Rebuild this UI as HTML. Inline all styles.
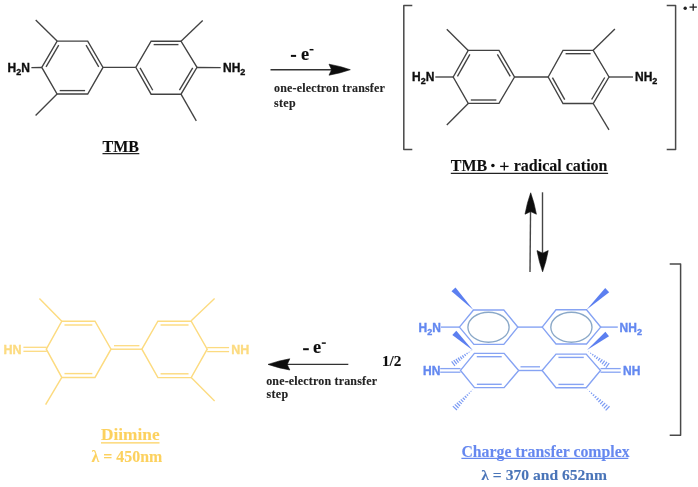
<!DOCTYPE html>
<html><head><meta charset="utf-8"><style>
html,body{margin:0;padding:0;background:#fff;width:698px;height:487px;overflow:hidden}
svg{display:block}
</style></head><body>
<svg width="698" height="487" viewBox="0 0 698 487">
<defs><filter id="b" x="-5%" y="-5%" width="110%" height="110%"><feGaussianBlur stdDeviation="0.55"/></filter></defs>
<rect width="698" height="487" fill="#fff"/>
<g filter="url(#b)">
<polygon points="41.8,67.4 57.1,41.1 87.7,41.1 103,67.4 87.7,94 57.1,94" fill="none" stroke="#424242" stroke-width="1.35" stroke-linejoin="miter"/>
<line x1="46.04" y1="66.87" x2="58.74" y2="45.05" stroke="#424242" stroke-width="1.35" stroke-linecap="butt"/>
<line x1="86.06" y1="45.05" x2="98.76" y2="66.87" stroke="#424242" stroke-width="1.35" stroke-linecap="butt"/>
<line x1="85.1" y1="90.6" x2="59.7" y2="90.6" stroke="#424242" stroke-width="1.35" stroke-linecap="butt"/>
<line x1="57.1" y1="41.1" x2="35.7" y2="20" stroke="#424242" stroke-width="1.35" stroke-linecap="butt"/>
<line x1="57.1" y1="94" x2="35.6" y2="115.5" stroke="#424242" stroke-width="1.35" stroke-linecap="butt"/>
<line x1="31.4" y1="67.6" x2="41.8" y2="67.5" stroke="#424242" stroke-width="1.35" stroke-linecap="butt"/>
<line x1="103" y1="67.4" x2="135.8" y2="67.4" stroke="#424242" stroke-width="1.35" stroke-linecap="butt"/>
<polygon points="135.8,67.3 151.1,41.2 181,41.2 197,67.3 181,94.2 151.1,94.2" fill="none" stroke="#424242" stroke-width="1.35" stroke-linejoin="miter"/>
<line x1="153.64" y1="44.6" x2="178.46" y2="44.6" stroke="#424242" stroke-width="1.35" stroke-linecap="butt"/>
<line x1="192.72" y1="67.85" x2="179.44" y2="90.18" stroke="#424242" stroke-width="1.35" stroke-linecap="butt"/>
<line x1="152.75" y1="90.23" x2="140.06" y2="67.91" stroke="#424242" stroke-width="1.35" stroke-linecap="butt"/>
<line x1="181" y1="41.2" x2="202.7" y2="20.5" stroke="#424242" stroke-width="1.35" stroke-linecap="butt"/>
<line x1="181" y1="94.2" x2="196.3" y2="120.8" stroke="#424242" stroke-width="1.35" stroke-linecap="butt"/>
<line x1="197" y1="67.5" x2="220.7" y2="67.7" stroke="#424242" stroke-width="1.35" stroke-linecap="butt"/>
<text x="7.6" y="72.4" font-family="'Liberation Sans', serif" font-weight="bold" font-size="12" fill="#111" stroke="#111" stroke-width="0.35" text-anchor="start" >H<tspan font-size="9" dy="2.9">2</tspan><tspan dy="-2.9">N</tspan></text>
<text x="223" y="72.4" font-family="'Liberation Sans', serif" font-weight="bold" font-size="12" fill="#111" stroke="#111" stroke-width="0.35" text-anchor="start" >NH<tspan font-size="9" dy="2.9">2</tspan></text>
<text x="102.5" y="151.8" font-family="'Liberation Serif', serif" font-weight="bold" font-size="16" fill="#111" stroke="#111" stroke-width="0.1" text-anchor="start" >TMB</text>
<line x1="102.5" y1="153.6" x2="139.3" y2="153.6" stroke="#222" stroke-width="1.2" stroke-linecap="butt"/>
<polygon points="453.2,77 468.2,50.4 499,50.4 514.5,77 499,103.4 468.2,103.4" fill="none" stroke="#424242" stroke-width="1.35" stroke-linejoin="miter"/>
<line x1="457.44" y1="76.41" x2="469.89" y2="54.33" stroke="#424242" stroke-width="1.35" stroke-linecap="butt"/>
<line x1="497.38" y1="54.37" x2="510.24" y2="76.45" stroke="#424242" stroke-width="1.35" stroke-linecap="butt"/>
<line x1="496.38" y1="100" x2="470.82" y2="100" stroke="#424242" stroke-width="1.35" stroke-linecap="butt"/>
<line x1="468.2" y1="50.4" x2="446.8" y2="29.2" stroke="#424242" stroke-width="1.35" stroke-linecap="butt"/>
<line x1="468.2" y1="103.4" x2="446.8" y2="125" stroke="#424242" stroke-width="1.35" stroke-linecap="butt"/>
<line x1="435.3" y1="77" x2="453.2" y2="77" stroke="#424242" stroke-width="1.35" stroke-linecap="butt"/>
<line x1="514.5" y1="77" x2="548.2" y2="77" stroke="#424242" stroke-width="1.35" stroke-linecap="butt"/>
<polygon points="548.2,77 563,50.3 593.2,50.3 609,77 593.2,103.5 563,103.5" fill="none" stroke="#424242" stroke-width="1.35" stroke-linejoin="miter"/>
<line x1="565.57" y1="53.7" x2="590.63" y2="53.7" stroke="#424242" stroke-width="1.35" stroke-linecap="butt"/>
<line x1="604.74" y1="77.51" x2="591.62" y2="99.51" stroke="#424242" stroke-width="1.35" stroke-linecap="butt"/>
<line x1="564.71" y1="99.59" x2="552.43" y2="77.59" stroke="#424242" stroke-width="1.35" stroke-linecap="butt"/>
<line x1="593.2" y1="50.3" x2="614.9" y2="28.9" stroke="#424242" stroke-width="1.35" stroke-linecap="butt"/>
<line x1="593.2" y1="103.5" x2="609" y2="129.8" stroke="#424242" stroke-width="1.35" stroke-linecap="butt"/>
<line x1="609" y1="77" x2="633" y2="77" stroke="#424242" stroke-width="1.35" stroke-linecap="butt"/>
<text x="412" y="81.4" font-family="'Liberation Sans', serif" font-weight="bold" font-size="12" fill="#111" stroke="#111" stroke-width="0.35" text-anchor="start" >H<tspan font-size="9" dy="2.9">2</tspan><tspan dy="-2.9">N</tspan></text>
<text x="635" y="81.4" font-family="'Liberation Sans', serif" font-weight="bold" font-size="12" fill="#111" stroke="#111" stroke-width="0.35" text-anchor="start" >NH<tspan font-size="9" dy="2.9">2</tspan></text>
<polyline points="412.3,5.6 403.8,5.6 403.8,149.4 412.3,149.4" fill="none" stroke="#4a4a4a" stroke-width="1.5" stroke-linejoin="round"/>
<polyline points="666.7,5.5 675.6,5.5 675.6,149.5 666.7,149.5" fill="none" stroke="#4a4a4a" stroke-width="1.5" stroke-linejoin="round"/>
<circle cx="685.2" cy="8.3" r="1.7" fill="#222"/>
<line x1="689.5" y1="7.1" x2="696.9" y2="7.1" stroke="#222" stroke-width="1.3" stroke-linecap="butt"/>
<line x1="693.2" y1="3.7" x2="693.2" y2="10.8" stroke="#222" stroke-width="1.3" stroke-linecap="butt"/>
<text x="450.8" y="171.1" font-family="'Liberation Serif', serif" font-weight="bold" font-size="16" fill="#111" stroke="#111" stroke-width="0.1" text-anchor="start" >TMB <tspan fill="none" stroke="none">· +</tspan> radical cation</text>
<circle cx="492.9" cy="165.4" r="1.75" fill="#111"/>
<line x1="500.1" y1="166.4" x2="508.6" y2="166.4" stroke="#111" stroke-width="1.3" stroke-linecap="butt"/>
<line x1="504.3" y1="162.3" x2="504.3" y2="170.4" stroke="#111" stroke-width="1.3" stroke-linecap="butt"/>
<line x1="450.8" y1="173.4" x2="608.1" y2="173.4" stroke="#222" stroke-width="1.3" stroke-linecap="butt"/>
<line x1="270.5" y1="69.7" x2="335" y2="69.7" stroke="#333" stroke-width="1.4" stroke-linecap="butt"/>
<path d="M350.3,69.7 Q339.88,66.08 329,64.2 L331.6,69.7 L329,75.2 Q339.88,73.32 350.3,69.7 Z" fill="#111" stroke="#111" stroke-width="0.6" stroke-linejoin="round"/>
<line x1="290.9" y1="55.9" x2="296.1" y2="55.9" stroke="#111" stroke-width="2" stroke-linecap="butt"/>
<text x="300.9" y="59.8" font-family="'Liberation Serif', serif" font-weight="bold" font-size="18.4" fill="#111" stroke="#111" stroke-width="0.1" text-anchor="start" >e</text>
<line x1="309.6" y1="49.7" x2="313.5" y2="49.7" stroke="#111" stroke-width="1.5" stroke-linecap="butt"/>
<text x="274" y="92.4" font-family="'Liberation Serif', serif" font-weight="bold" font-size="12" fill="#222" stroke="#222" stroke-width="0.1" text-anchor="start" letter-spacing="0.17">one-electron transfer</text>
<text x="274" y="106.7" font-family="'Liberation Serif', serif" font-weight="bold" font-size="12" fill="#222" stroke="#222" stroke-width="0.1" text-anchor="start" letter-spacing="0.3">step</text>
<line x1="530" y1="272" x2="530.6" y2="205" stroke="#444" stroke-width="1.4" stroke-linecap="butt"/>
<path d="M530.7,192.8 Q526.98,203.27 525,214.2 L530.7,211.6 L536.4,214.2 Q534.42,203.27 530.7,192.8 Z" fill="#111" stroke="#111" stroke-width="0.6" stroke-linejoin="round"/>
<line x1="542.5" y1="192.3" x2="542.5" y2="260" stroke="#444" stroke-width="1.4" stroke-linecap="butt"/>
<path d="M542.6,271.8 Q546.27,261.43 548.2,250.6 L542.6,253.2 L537,250.6 Q538.93,261.43 542.6,271.8 Z" fill="#111" stroke="#111" stroke-width="0.6" stroke-linejoin="round"/>
<line x1="348.3" y1="364.4" x2="280" y2="364.4" stroke="#333" stroke-width="1.4" stroke-linecap="butt"/>
<path d="M268,364.4 Q278.68,368.07 289.8,370 L287.2,364.4 L289.8,358.8 Q278.68,360.73 268,364.4 Z" fill="#111" stroke="#111" stroke-width="0.6" stroke-linejoin="round"/>
<line x1="303.1" y1="349.2" x2="308.8" y2="349.2" stroke="#111" stroke-width="2" stroke-linecap="butt"/>
<text x="313.1" y="353.4" font-family="'Liberation Serif', serif" font-weight="bold" font-size="18.4" fill="#111" stroke="#111" stroke-width="0.1" text-anchor="start" >e</text>
<line x1="321.8" y1="343.1" x2="325.8" y2="343.1" stroke="#111" stroke-width="1.5" stroke-linecap="butt"/>
<text x="382" y="366.3" font-family="'Liberation Serif', serif" font-weight="bold" font-size="15.2" fill="#111" stroke="#111" stroke-width="0.1" text-anchor="start" >1/2</text>
<text x="266.2" y="384.8" font-family="'Liberation Serif', serif" font-weight="bold" font-size="12" fill="#222" stroke="#222" stroke-width="0.1" text-anchor="start" letter-spacing="0.17">one-electron transfer</text>
<text x="266.5" y="398.3" font-family="'Liberation Serif', serif" font-weight="bold" font-size="12" fill="#222" stroke="#222" stroke-width="0.1" text-anchor="start" letter-spacing="0.3">step</text>
<polygon points="46.3,349.2 61.8,321.2 95,321.2 111,349.2 95,377.4 61.8,377.4" fill="none" stroke="#fcdb80" stroke-width="1.45" stroke-linejoin="miter"/>
<line x1="64.46" y1="325" x2="92.34" y2="325" stroke="#fcdb80" stroke-width="1.45" stroke-linecap="butt"/>
<line x1="92.34" y1="373.6" x2="64.46" y2="373.6" stroke="#fcdb80" stroke-width="1.45" stroke-linecap="butt"/>
<line x1="61.8" y1="321.2" x2="39.4" y2="298.6" stroke="#fcdb80" stroke-width="1.45" stroke-linecap="butt"/>
<line x1="61.8" y1="377.4" x2="45.6" y2="404.6" stroke="#fcdb80" stroke-width="1.45" stroke-linecap="butt"/>
<line x1="23.4" y1="347.3" x2="46.8" y2="347.3" stroke="#fcdb80" stroke-width="1.3" stroke-linecap="butt"/>
<line x1="23.4" y1="351.3" x2="46.8" y2="351.3" stroke="#fcdb80" stroke-width="1.3" stroke-linecap="butt"/>
<line x1="111" y1="349.2" x2="141.9" y2="349.2" stroke="#fcdb80" stroke-width="1.4" stroke-linecap="butt"/>
<line x1="114" y1="345.7" x2="139.4" y2="345.7" stroke="#fcdb80" stroke-width="1.3" stroke-linecap="butt"/>
<polygon points="141.9,349.2 157.9,321.2 191.2,321.2 207.2,349.2 191.2,377.6 157.9,377.6" fill="none" stroke="#fcdb80" stroke-width="1.45" stroke-linejoin="miter"/>
<line x1="160.56" y1="325" x2="188.54" y2="325" stroke="#fcdb80" stroke-width="1.45" stroke-linecap="butt"/>
<line x1="188.54" y1="373.8" x2="160.56" y2="373.8" stroke="#fcdb80" stroke-width="1.45" stroke-linecap="butt"/>
<line x1="191.2" y1="320.8" x2="214.6" y2="298.6" stroke="#fcdb80" stroke-width="1.4" stroke-linecap="butt"/>
<line x1="191.2" y1="377.5" x2="214.6" y2="400.9" stroke="#fcdb80" stroke-width="1.4" stroke-linecap="butt"/>
<line x1="207.2" y1="347.6" x2="229.1" y2="347.6" stroke="#fcdb80" stroke-width="1.3" stroke-linecap="butt"/>
<line x1="207.2" y1="351.6" x2="229.1" y2="351.6" stroke="#fcdb80" stroke-width="1.3" stroke-linecap="butt"/>
<text x="3.5" y="353.6" font-family="'Liberation Sans', serif" font-weight="bold" font-size="12.5" fill="#fcdb80" stroke="#fcdb80" stroke-width="0.35" text-anchor="start" >HN</text>
<text x="231.3" y="353.6" font-family="'Liberation Sans', serif" font-weight="bold" font-size="12.5" fill="#fcdb80" stroke="#fcdb80" stroke-width="0.35" text-anchor="start" >NH</text>
<text x="101" y="440.2" font-family="'Liberation Serif', serif" font-weight="bold" font-size="17.3" fill="#fcd15e" stroke="#fcd15e" stroke-width="0.1" text-anchor="start" >Diimine</text>
<line x1="101" y1="442.8" x2="159.5" y2="442.8" stroke="#fcd15e" stroke-width="1.2" stroke-linecap="butt"/>
<text x="91.5" y="461.5" font-family="'Liberation Serif', serif" font-weight="bold" font-size="15.9" fill="#fcd15e" stroke="#fcd15e" stroke-width="0.1" text-anchor="start" >λ = 450nm</text>
<polygon points="459.4,327.1 473.5,310 503.8,310 517.8,327.1 503.8,344.4 473.9,344.4" fill="none" stroke="#86a3f3" stroke-width="1.4" stroke-linejoin="miter"/>
<ellipse cx="488.5" cy="327.2" rx="20.6" ry="15" fill="none" stroke="#8aa8c8" stroke-width="1.35"/>
<polygon points="473.5,310 455.47,287.48 451.53,291.32" fill="#5b7ff0"/>
<line x1="441" y1="327.1" x2="459.4" y2="327.1" stroke="#86a3f3" stroke-width="1.4" stroke-linecap="butt"/>
<line x1="517.8" y1="327.1" x2="542.2" y2="327.1" stroke="#86a3f3" stroke-width="1.4" stroke-linecap="butt"/>
<polygon points="542.2,327.1 556,309.8 586.5,309.8 600.7,327.1 586.5,344 556,344" fill="none" stroke="#86a3f3" stroke-width="1.4" stroke-linejoin="miter"/>
<ellipse cx="571.4" cy="327.2" rx="20.6" ry="15" fill="none" stroke="#8aa8c8" stroke-width="1.35"/>
<polygon points="586.5,309.8 609.19,292.31 605.21,288.09" fill="#5b7ff0"/>
<line x1="600.7" y1="327.1" x2="617.8" y2="327.1" stroke="#86a3f3" stroke-width="1.4" stroke-linecap="butt"/>
<polygon points="473,350.5 456.29,330.69 452.31,334.91" fill="#5b7ff0"/>
<polygon points="587,350 609,336.27 605.4,331.73" fill="#5b7ff0"/>
<text x="418.6" y="331.9" font-family="'Liberation Sans', serif" font-weight="bold" font-size="12" fill="#6388f0" stroke="#6388f0" stroke-width="0.35" text-anchor="start" >H<tspan font-size="9" dy="2.9">2</tspan><tspan dy="-2.9">N</tspan></text>
<text x="619.6" y="331.9" font-family="'Liberation Sans', serif" font-weight="bold" font-size="12" fill="#6388f0" stroke="#6388f0" stroke-width="0.35" text-anchor="start" >NH<tspan font-size="9" dy="2.9">2</tspan></text>
<polygon points="460.5,370.4 474.4,353.4 504.1,353.4 518.7,370.5 504.1,387.6 474.5,387.6" fill="none" stroke="#86a3f3" stroke-width="1.4" stroke-linejoin="miter"/>
<line x1="476.78" y1="356.7" x2="501.72" y2="356.7" stroke="#86a3f3" stroke-width="1.4" stroke-linecap="butt"/>
<line x1="501.73" y1="384.3" x2="476.87" y2="384.3" stroke="#86a3f3" stroke-width="1.4" stroke-linecap="butt"/>
<line x1="470.93" y1="350.59" x2="471.1" y2="350.84" stroke="#7a9af3" stroke-width="1.2" stroke-linecap="butt"/>
<line x1="468.78" y1="351.78" x2="469.31" y2="352.51" stroke="#7a9af3" stroke-width="1.2" stroke-linecap="butt"/>
<line x1="466.63" y1="352.97" x2="467.52" y2="354.18" stroke="#7a9af3" stroke-width="1.2" stroke-linecap="butt"/>
<line x1="464.49" y1="354.16" x2="465.72" y2="355.85" stroke="#7a9af3" stroke-width="1.2" stroke-linecap="butt"/>
<line x1="462.34" y1="355.34" x2="463.93" y2="357.53" stroke="#7a9af3" stroke-width="1.2" stroke-linecap="butt"/>
<line x1="460.2" y1="356.53" x2="462.13" y2="359.2" stroke="#7a9af3" stroke-width="1.2" stroke-linecap="butt"/>
<line x1="458.05" y1="357.72" x2="460.34" y2="360.87" stroke="#7a9af3" stroke-width="1.2" stroke-linecap="butt"/>
<line x1="455.9" y1="358.9" x2="458.55" y2="362.55" stroke="#7a9af3" stroke-width="1.2" stroke-linecap="butt"/>
<line x1="453.76" y1="360.09" x2="456.75" y2="364.22" stroke="#7a9af3" stroke-width="1.2" stroke-linecap="butt"/>
<line x1="451.61" y1="361.28" x2="454.96" y2="365.89" stroke="#7a9af3" stroke-width="1.2" stroke-linecap="butt"/>
<line x1="472.71" y1="389.34" x2="472.9" y2="389.53" stroke="#7a9af3" stroke-width="1.2" stroke-linecap="butt"/>
<line x1="470.72" y1="391.01" x2="471.31" y2="391.58" stroke="#7a9af3" stroke-width="1.2" stroke-linecap="butt"/>
<line x1="468.73" y1="392.69" x2="469.71" y2="393.63" stroke="#7a9af3" stroke-width="1.2" stroke-linecap="butt"/>
<line x1="466.74" y1="394.36" x2="468.12" y2="395.68" stroke="#7a9af3" stroke-width="1.2" stroke-linecap="butt"/>
<line x1="464.76" y1="396.04" x2="466.53" y2="397.74" stroke="#7a9af3" stroke-width="1.2" stroke-linecap="butt"/>
<line x1="462.77" y1="397.71" x2="464.93" y2="399.79" stroke="#7a9af3" stroke-width="1.2" stroke-linecap="butt"/>
<line x1="460.78" y1="399.39" x2="463.34" y2="401.84" stroke="#7a9af3" stroke-width="1.2" stroke-linecap="butt"/>
<line x1="458.79" y1="401.06" x2="461.74" y2="403.89" stroke="#7a9af3" stroke-width="1.2" stroke-linecap="butt"/>
<line x1="456.81" y1="402.73" x2="460.15" y2="405.95" stroke="#7a9af3" stroke-width="1.2" stroke-linecap="butt"/>
<line x1="454.82" y1="404.41" x2="458.55" y2="408" stroke="#7a9af3" stroke-width="1.2" stroke-linecap="butt"/>
<line x1="452.83" y1="406.08" x2="456.96" y2="410.05" stroke="#7a9af3" stroke-width="1.2" stroke-linecap="butt"/>
<line x1="440.2" y1="368.6" x2="460.5" y2="368.6" stroke="#86a3f3" stroke-width="1.3" stroke-linecap="butt"/>
<line x1="440.2" y1="372.2" x2="460.5" y2="372.2" stroke="#86a3f3" stroke-width="1.3" stroke-linecap="butt"/>
<line x1="518.7" y1="370.5" x2="542.1" y2="370.5" stroke="#86a3f3" stroke-width="1.4" stroke-linecap="butt"/>
<line x1="520.5" y1="366.8" x2="540" y2="366.8" stroke="#86a3f3" stroke-width="1.3" stroke-linecap="butt"/>
<polygon points="542.1,370.5 556,354.1 586.2,354.1 600.5,370.5 586.2,387.7 556,387.7" fill="none" stroke="#86a3f3" stroke-width="1.4" stroke-linejoin="miter"/>
<line x1="558.42" y1="357.4" x2="583.78" y2="357.4" stroke="#86a3f3" stroke-width="1.4" stroke-linecap="butt"/>
<line x1="583.78" y1="384.4" x2="558.42" y2="384.4" stroke="#86a3f3" stroke-width="1.4" stroke-linecap="butt"/>
<line x1="588.47" y1="351.88" x2="588.64" y2="351.64" stroke="#7a9af3" stroke-width="1.2" stroke-linecap="butt"/>
<line x1="590.4" y1="353.65" x2="590.93" y2="352.91" stroke="#7a9af3" stroke-width="1.2" stroke-linecap="butt"/>
<line x1="592.34" y1="355.41" x2="593.21" y2="354.19" stroke="#7a9af3" stroke-width="1.2" stroke-linecap="butt"/>
<line x1="594.27" y1="357.17" x2="595.5" y2="355.47" stroke="#7a9af3" stroke-width="1.2" stroke-linecap="butt"/>
<line x1="596.21" y1="358.94" x2="597.78" y2="356.74" stroke="#7a9af3" stroke-width="1.2" stroke-linecap="butt"/>
<line x1="598.14" y1="360.7" x2="600.07" y2="358.02" stroke="#7a9af3" stroke-width="1.2" stroke-linecap="butt"/>
<line x1="600.08" y1="362.46" x2="602.35" y2="359.3" stroke="#7a9af3" stroke-width="1.2" stroke-linecap="butt"/>
<line x1="602.01" y1="364.23" x2="604.64" y2="360.57" stroke="#7a9af3" stroke-width="1.2" stroke-linecap="butt"/>
<line x1="603.94" y1="365.99" x2="606.93" y2="361.85" stroke="#7a9af3" stroke-width="1.2" stroke-linecap="butt"/>
<line x1="605.88" y1="367.75" x2="609.21" y2="363.13" stroke="#7a9af3" stroke-width="1.2" stroke-linecap="butt"/>
<line x1="587.41" y1="389.54" x2="587.6" y2="389.35" stroke="#7a9af3" stroke-width="1.2" stroke-linecap="butt"/>
<line x1="589.23" y1="391.63" x2="589.79" y2="391.04" stroke="#7a9af3" stroke-width="1.2" stroke-linecap="butt"/>
<line x1="591.06" y1="393.72" x2="591.99" y2="392.73" stroke="#7a9af3" stroke-width="1.2" stroke-linecap="butt"/>
<line x1="592.88" y1="395.81" x2="594.19" y2="394.42" stroke="#7a9af3" stroke-width="1.2" stroke-linecap="butt"/>
<line x1="594.7" y1="397.9" x2="596.38" y2="396.12" stroke="#7a9af3" stroke-width="1.2" stroke-linecap="butt"/>
<line x1="596.52" y1="399.99" x2="598.58" y2="397.81" stroke="#7a9af3" stroke-width="1.2" stroke-linecap="butt"/>
<line x1="598.34" y1="402.08" x2="600.77" y2="399.5" stroke="#7a9af3" stroke-width="1.2" stroke-linecap="butt"/>
<line x1="600.17" y1="404.17" x2="602.97" y2="401.19" stroke="#7a9af3" stroke-width="1.2" stroke-linecap="butt"/>
<line x1="601.99" y1="406.26" x2="605.17" y2="402.88" stroke="#7a9af3" stroke-width="1.2" stroke-linecap="butt"/>
<line x1="603.81" y1="408.35" x2="607.36" y2="404.58" stroke="#7a9af3" stroke-width="1.2" stroke-linecap="butt"/>
<line x1="605.63" y1="410.44" x2="609.56" y2="406.27" stroke="#7a9af3" stroke-width="1.2" stroke-linecap="butt"/>
<line x1="600.5" y1="368.6" x2="620.7" y2="368.6" stroke="#86a3f3" stroke-width="1.3" stroke-linecap="butt"/>
<line x1="600.5" y1="372.2" x2="620.7" y2="372.2" stroke="#86a3f3" stroke-width="1.3" stroke-linecap="butt"/>
<text x="423" y="375" font-family="'Liberation Sans', serif" font-weight="bold" font-size="12" fill="#6388f0" stroke="#6388f0" stroke-width="0.35" text-anchor="start" >HN</text>
<text x="623" y="375" font-family="'Liberation Sans', serif" font-weight="bold" font-size="12" fill="#6388f0" stroke="#6388f0" stroke-width="0.35" text-anchor="start" >NH</text>
<polyline points="669.7,264 680.6,264 680.6,435.3 669.7,435.3" fill="none" stroke="#4a4a4a" stroke-width="1.5" stroke-linejoin="round"/>
<text x="461.4" y="456.9" font-family="'Liberation Serif', serif" font-weight="bold" font-size="15.8" fill="#6688ef" stroke="#6688ef" stroke-width="0.1" text-anchor="start" >Charge transfer complex</text>
<line x1="461.4" y1="458.3" x2="628.3" y2="458.3" stroke="#6688ef" stroke-width="1.2" stroke-linecap="butt"/>
<text x="481.3" y="479.8" font-family="'Liberation Serif', serif" font-weight="bold" font-size="15.6" fill="#4a74b8" stroke="#4a74b8" stroke-width="0.1" text-anchor="start" >λ = 370 and 652nm</text>
</g>
</svg>
</body></html>
